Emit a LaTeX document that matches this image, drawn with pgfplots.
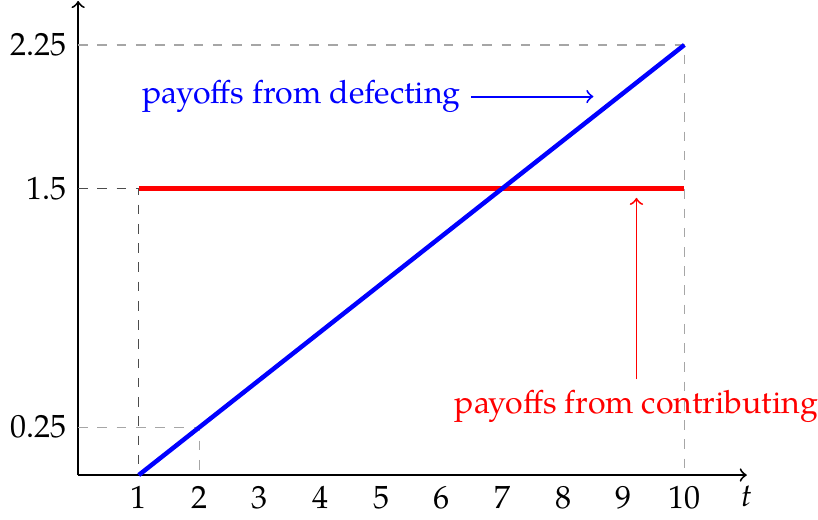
\documentclass[border=0pt]{standalone}
\usepackage{fontspec}
\setmainfont{TeX Gyre Pagella}
\usepackage{pgfplots}
\pgfplotsset{compat=1.18}
\begin{document}
\begin{tikzpicture}
\begin{axis}[
  x=18.9pt, y=59.6pt,
  xmin=0, xmax=11.03, ymin=0, ymax=2.48,
  axis x line=bottom, axis y line=left,
  axis line style={->, line width=0.6pt},
  xtick={1,2,3,4,5,6,7,8,9,10},
  ytick={0.25,1.5,2.25},
  yticklabels={0.25,1.5,2.25},
  /pgf/number format/assume math mode=true,
  major tick length=0pt,
  xlabel={\itshape t},
  xlabel style={at={(ticklabel* cs:1)}, anchor=north, inner sep=0pt, yshift=-3pt},
  clip=false,
]
% helper dashed lines
\addplot[gray!70, dashed, line width=0.45pt] coordinates {(0,2.25) (10,2.25) (10,0)};
\addplot[gray!70, dashed, line width=0.45pt] coordinates {(0,0.25) (2,0.25) (2,0)};
\addplot[black!70, dashed, line width=0.45pt] coordinates {(0,1.5) (1,1.5) (1,0)};
% payoffs
\addplot[red, line width=1.4pt] coordinates {(1,1.5) (10,1.5)};
\addplot[blue, line width=1.4pt] coordinates {(1,0) (10,2.25)};
% annotations
\node[blue, anchor=east, inner sep=0pt] at (axis cs:6.32,1.98) {payoffs from defecting};
\draw[blue, ->, line width=0.6pt] (axis cs:6.48,1.98) -- (axis cs:8.5,1.98);
\node[red, inner sep=0pt] at (axis cs:9.21,0.36) {payoffs from contributing};
\draw[red, ->, line width=0.6pt] (axis cs:9.21,0.5) -- (axis cs:9.21,1.45);
\end{axis}
\end{tikzpicture}
\end{document}
